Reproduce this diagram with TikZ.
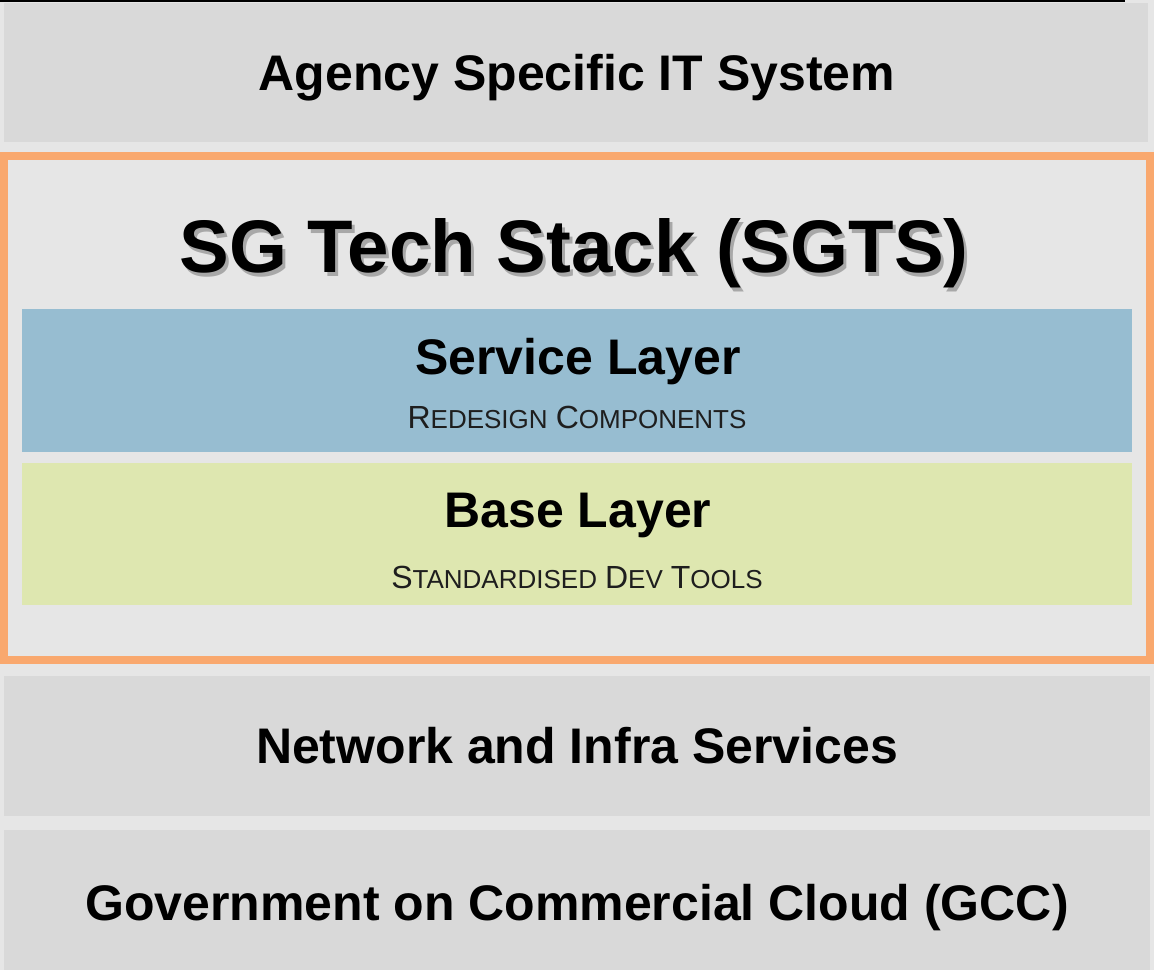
\documentclass[tikz,border=0pt]{standalone}
\usepackage{fontspec}
\setmainfont{Liberation Sans}
\definecolor{bgc}{HTML}{E6E6E6}
\definecolor{boxc}{HTML}{D9D9D9}
\definecolor{orangec}{HTML}{F9A86E}
\definecolor{bluec}{HTML}{97BDD1}
\definecolor{greenc}{HTML}{DEE7B0}
\definecolor{subc}{HTML}{1E1E1E}
\definecolor{shadc}{HTML}{A8A8A8}
\newcommand{\mysc}[2]{{\fontsize{32}{32}\selectfont #1}{\fontsize{26}{26}\selectfont #2}}
\newcommand{\myshadowtext}[1]{\rlap{\hspace{3pt}\raisebox{-4pt}{\textcolor{shadc}{#1}}}#1}
\begin{document}
\begin{tikzpicture}[x=1pt,y=-1pt,
  layer/.style={fill=boxc,draw=none},
  bold50/.style={anchor=base,inner sep=0pt,font=\bfseries\fontsize{50}{50}\selectfont},
  sub/.style={anchor=base,inner sep=0pt,text=subc,font=\fontsize{29}{29}\selectfont}
]
\useasboundingbox (0,0) rectangle (1154,970);
\fill[bgc] (0,0) rectangle (1154,970);
\draw[black,line width=2pt] (0,0.5) -- (1125,0.5);
% outer layers
\fill[layer] (4,3) rectangle (1148,142);
\fill[layer] (4,676) rectangle (1150,816);
\fill[layer] (4,830) rectangle (1150,970);
% SGTS frame
\draw[orangec,line width=8pt] (4,156) rectangle (1150,660);
\fill[bluec] (22,309) rectangle (1132,452);
\fill[greenc] (22,463) rectangle (1132,605);
% texts
\node[bold50] (agency) at (577,90) {Agency Specific IT System};
\node[anchor=base,inner sep=0pt,font=\bfseries\fontsize{74.5}{74.5}\selectfont] (sgts) at (574,272) {\myshadowtext{SG Tech Stack (SGTS)}};
\node[bold50] (service) at (578,374) {Service Layer};
\node[sub] (redesign) at (577,428) {\mysc{R}{EDESIGN} \mysc{C}{OMPONENTS}};
\node[bold50] (base) at (578,527) {Base Layer};
\node[sub] (stdtools) at (577,588) {\mysc{S}{TANDARDISED} \mysc{D}{EV} \mysc{T}{OOLS}};
\node[bold50] (network) at (577,763) {Network and Infra Services};
\node[bold50] (gcc) at (577,920) {Government on Commercial Cloud (GCC)};
\end{tikzpicture}
\end{document}
